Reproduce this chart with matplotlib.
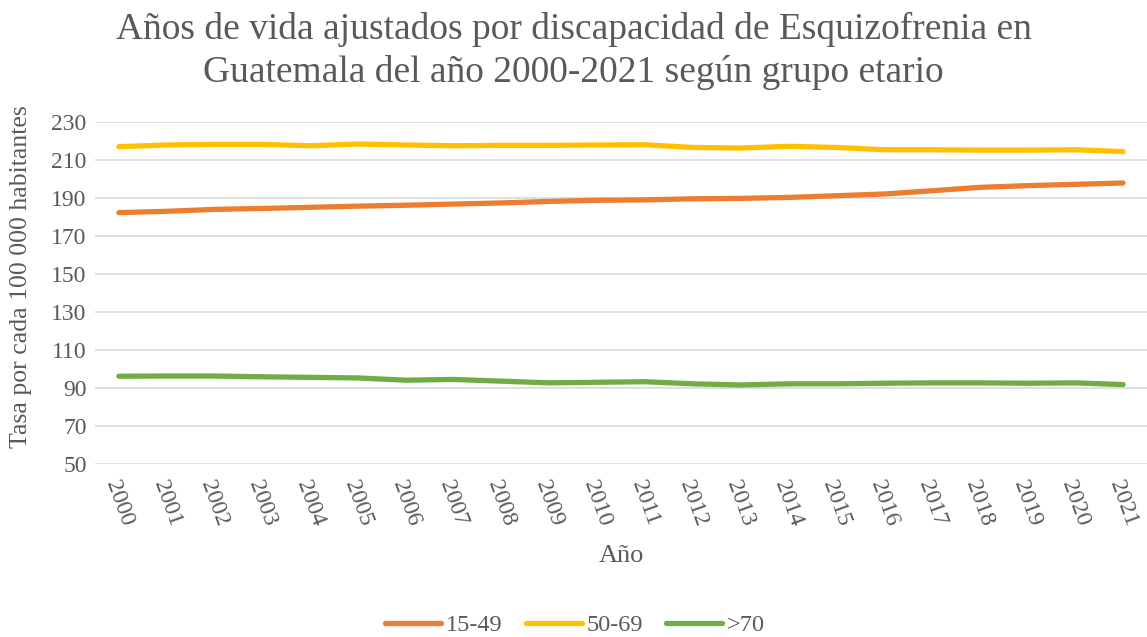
import matplotlib.pyplot as plt

# Datos
anios = [str(a) for a in range(2000, 2022)]
grupo_15_49 = [182.3, 183.0, 184.0, 184.5, 185.1, 185.7, 186.2, 186.8, 187.4, 188.2, 188.8,
               189.0, 189.6, 189.8, 190.3, 191.2, 192.1, 193.8, 195.6, 196.5, 197.2, 197.9]
grupo_50_69 = [217.0, 217.9, 218.2, 218.2, 217.5, 218.4, 217.9, 217.5, 217.7, 217.7, 217.9,
               218.0, 216.6, 216.3, 217.2, 216.6, 215.4, 215.4, 215.2, 215.2, 215.4, 214.4]
grupo_70 = [96.2, 96.3, 96.3, 95.9, 95.6, 95.3, 94.1, 94.5, 93.6, 92.7, 93.0,
            93.3, 92.2, 91.6, 92.2, 92.2, 92.5, 92.7, 92.7, 92.5, 92.7, 91.8]
etiquetas = ['15-49', '50-69', '>70']
colores = ['#ED7D31', '#FFC000', '#70AD47']

plt.rcParams['font.family'] = 'Liberation Serif'
gris = '#595959'

fig = plt.figure(figsize=(11.47, 6.37), dpi=100)
ax = fig.add_axes([95 / 1147, 1 - 464 / 637, 1052 / 1147, 342 / 637])

x = range(len(anios))
for serie, lab, col in zip([grupo_15_49, grupo_50_69, grupo_70], etiquetas, colores):
    ax.plot(x, serie, color=col, linewidth=3.8, label=lab, solid_capstyle='round')

ax.set_xlim(-0.5, len(anios) - 0.5)
ax.set_ylim(50, 230)
ax.set_yticks(range(50, 231, 20))
ax.set_xticks(list(x))
ax.set_xticklabels(anios, rotation=-70, ha='center', va='top')
ax.tick_params(axis='both', length=0, labelsize=17, colors=gris)
ax.tick_params(axis='x', pad=10)
ax.tick_params(axis='y', pad=6)
ax.grid(axis='y', color='#D9D9D9', linewidth=1.2)
ax.set_axisbelow(True)
for s in ax.spines.values():
    s.set_visible(False)

ax.set_xlabel('Año', fontsize=19, color=gris)
ax.xaxis.set_label_coords(0.5, -(545 - 464) / 342)
ax.set_ylabel('Tasa por cada 100 000 habitantes', fontsize=18.5, color=gris)
ax.yaxis.set_label_coords(-63 / 1052, (464 - 277) / 342)

fig.text(0.5, 0.982, 'Años de vida ajustados por discapacidad de Esquizofrenia en\n'
         'Guatemala del año 2000-2021 según grupo etario',
         ha='center', va='top', fontsize=27, color=gris, linespacing=1.3)

fig.legend(loc='center', bbox_to_anchor=(575 / 1147, 1 - 625 / 637), ncol=3, frameon=False,
           fontsize=17.5, handlelength=2.3, handletextpad=0.2, columnspacing=0.95,
           labelcolor=gris)

fig.savefig('out.png', dpi=100)
